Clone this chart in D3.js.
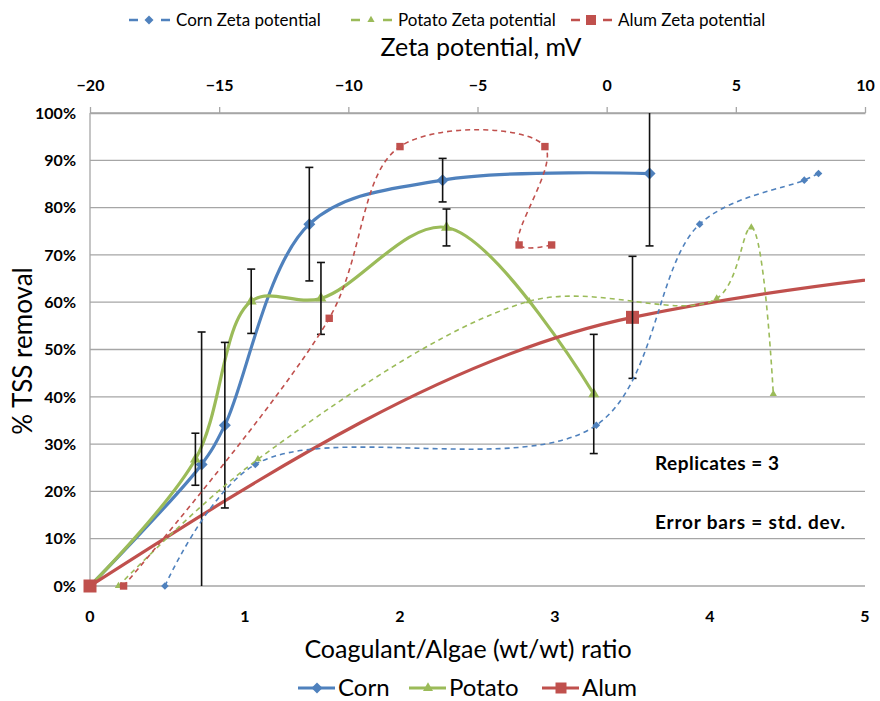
<!DOCTYPE html>
<html>
<head>
<meta charset="utf-8">
<script src="https://cdn.jsdelivr.net/npm/d3@7/dist/d3.min.js"></script>
<style>
  body { margin: 0; background: #fff; }
  text { font-family: Lato, "Open Sans", sans-serif; fill: #000; }
</style>
</head>
<body>
<svg id="chart" width="880" height="701"></svg>
<script>
// %TSS removal vs coagulant dose (mean of 3 replicates, sd = error bars)
let cornDose   = [0, 0.72, 0.87, 1.415, 2.275, 3.61];
let cornTSS    = [0, 25.7, 34.0, 76.5, 85.8, 87.2];
let cornSD     = [0, 28.0, 17.5, 12.0, 4.6, 15.3];

let potatoDose = [0, 0.68, 1.04, 1.49, 2.30, 3.25];
let potatoTSS  = [0, 26.8, 60.2, 60.8, 75.8, 40.6];
let potatoSD   = [0, 5.5, 6.8, 7.6, 3.9, 12.6];

// last alum dose falls beyond the x axis (estimated, clipped)
let alumDose   = [0, 3.5, 8];
let alumTSS    = [0, 56.8, 72];
let alumSD     = [0, 12.9, 0];

// zeta potential (mV) for the same samples
let cornZeta      = [-17.1, -13.6, -0.4, 3.6, 7.65, 8.2];
let potatoZeta    = [-18.9, -13.5, -3.0, 4.26, 5.6, 6.45];
let alumZeta      = [-18.7, -10.74, -8.0, -2.39, -3.39, -2.13];
let alumZetaTSS   = [0, 56.6, 92.9, 92.9, 72.1, 72.1];

let yTicks    = [0, 10, 20, 30, 40, 50, 60, 70, 80, 90, 100];
let doseTicks = [0, 1, 2, 3, 4, 5];
let zetaTicks = [-20, -15, -10, -5, 0, 5, 10];

let blue = "#4F81BD", green = "#9BBB59", red = "#C0504D";

let svg = d3.select("#chart");
let pLeft = 90, pRight = 865, pTop = 113, pBottom = 586;

let x = d3.scaleLinear().domain([0, 5]).range([pLeft, pRight]);
let xz = d3.scaleLinear().domain([-20, 10]).range([pLeft, pRight]);
let y = d3.scaleLinear().domain([0, 100]).range([pBottom, pTop]);

svg.append("clipPath").attr("id", "plotClip")
  .append("rect").attr("x", pLeft).attr("y", pTop)
  .attr("width", pRight - pLeft).attr("height", pBottom - pTop);

// gridlines
svg.append("g").selectAll("line")
  .data(yTicks).enter().append("line")
  .attr("x1", pLeft).attr("x2", pRight)
  .attr("y1", d => y(d)).attr("y2", d => y(d))
  .attr("stroke", "#a6a6a6").attr("stroke-width", 1.3);

svg.append("line")
  .attr("x1", pLeft).attr("x2", pLeft).attr("y1", pTop).attr("y2", pBottom)
  .attr("stroke", "#a6a6a6").attr("stroke-width", 1.3);

// left axis labels
svg.append("g").selectAll("text")
  .data(yTicks).enter().append("text")
  .attr("x", 76).attr("y", d => y(d)).attr("dy", "0.36em")
  .attr("text-anchor", "end")
  .style("font-size", "16px").style("font-weight", "bold")
  .text(d => d + "%");

// bottom axis labels
svg.append("g").selectAll("text")
  .data(doseTicks).enter().append("text")
  .attr("x", d => x(d)).attr("y", 622)
  .attr("text-anchor", "middle")
  .style("font-size", "16px").style("font-weight", "bold")
  .text(d => d);

// top axis (zeta potential)
let topAxis = svg.append("g")
  .attr("transform", "translate(0," + pTop + ")")
  .call(d3.axisTop(xz).tickValues(zetaTicks).tickSize(6).tickSizeOuter(0).tickPadding(16));
topAxis.select(".domain").attr("stroke", "#a6a6a6").attr("stroke-width", 1.3);
topAxis.selectAll(".tick line").attr("stroke", "#a6a6a6").attr("stroke-width", 1.3);
topAxis.selectAll(".tick text")
  .style("font-family", "Lato, sans-serif")
  .style("font-size", "16px").style("font-weight", "bold").attr("fill", "#000");

// axis titles
svg.append("text").attr("x", 481).attr("y", 56).attr("text-anchor", "middle")
  .style("font-size", "25px").text("Zeta potential, mV");
svg.append("text").attr("x", 468).attr("y", 658).attr("text-anchor", "middle")
  .style("font-size", "25px").text("Coagulant/Algae (wt/wt) ratio");
svg.append("text").attr("transform", "translate(32,351) rotate(-90)")
  .attr("text-anchor", "middle")
  .style("font-size", "26px").text("% TSS removal");

svg.append("text").attr("x", 655).attr("y", 470)
  .attr("textLength", 124).attr("lengthAdjust", "spacing")
  .style("font-size", "19px").style("font-weight", "bold").text("Replicates = 3");
svg.append("text").attr("x", 655).attr("y", 529)
  .attr("textLength", 190).attr("lengthAdjust", "spacing")
  .style("font-size", "19px").style("font-weight", "bold").text("Error bars = std. dev.");

// marker shapes
function marker(kind, s) {
  if (kind == "diamond") return "M0," + (-s) + "L" + s + ",0L0," + s + "L" + (-s) + ",0Z";
  if (kind == "square") return "M" + (-s) + "," + (-s) + "h" + (2 * s) + "v" + (2 * s) + "h" + (-2 * s) + "Z";
  let h = s * 1.732;
  return "M0," + (-h * 2 / 3) + "L" + s + "," + (h / 3) + "L" + (-s) + "," + (h / 3) + "Z";
}

let smooth = d3.curveCatmullRom.alpha(0.5);

let gMain = svg.append("g");
let gBars = svg.append("g").attr("clip-path", "url(#plotClip)");

function drawSeries(xs, ys, sds, color, kind, size, curve) {
  let pts = xs.map((d, i) => [x(d), y(ys[i])]);
  gMain.append("path")
    .attr("d", d3.line().curve(curve)(pts))
    .attr("clip-path", "url(#plotClip)")
    .attr("fill", "none").attr("stroke", color).attr("stroke-width", 3.2);

  let vis = xs.map((d, i) => ({ x: d, y: ys[i], sd: sds[i] })).filter(d => d.x <= 5);
  vis.filter(d => d.sd > 0).forEach(d => {
    let g = gBars.append("g").attr("stroke", "#111").attr("stroke-width", 1.6);
    g.append("line").attr("x1", x(d.x)).attr("x2", x(d.x))
      .attr("y1", y(d.y + d.sd)).attr("y2", y(d.y - d.sd));
    g.append("line").attr("x1", x(d.x) - 4).attr("x2", x(d.x) + 4)
      .attr("y1", y(d.y + d.sd)).attr("y2", y(d.y + d.sd));
    g.append("line").attr("x1", x(d.x) - 4).attr("x2", x(d.x) + 4)
      .attr("y1", y(d.y - d.sd)).attr("y2", y(d.y - d.sd));
  });
  gMain.append("g").selectAll("path")
    .data(vis).enter().append("path")
    .attr("transform", d => "translate(" + x(d.x) + "," + y(d.y) + ")")
    .attr("d", marker(kind, size))
    .attr("fill", color);
}

drawSeries(cornDose, cornTSS, cornSD, blue, "diamond", 6, smooth);
drawSeries(potatoDose, potatoTSS, potatoSD, green, "triangle", 5.5, smooth);
drawSeries(alumDose, alumTSS, alumSD, red, "square", 6.5, d3.curveMonotoneX);

// zeta potential series (dashed, top axis)
let gZeta = svg.append("g");
function drawZeta(zs, ys, color, kind, size) {
  let pts = zs.map((d, i) => [xz(d), y(ys[i])]);
  gZeta.append("path")
    .attr("d", d3.line().curve(smooth)(pts))
    .attr("fill", "none").attr("stroke", color).attr("stroke-width", 1.6)
    .attr("stroke-dasharray", "5,4");
  gZeta.append("g").selectAll("path")
    .data(pts).enter().append("path")
    .attr("transform", d => "translate(" + d[0] + "," + d[1] + ")")
    .attr("d", marker(kind, size))
    .attr("fill", color);
}
drawZeta(cornZeta, cornTSS, blue, "diamond", 3.8);
drawZeta(potatoZeta, potatoTSS, green, "triangle", 3.6);
drawZeta(alumZeta, alumZetaTSS, red, "square", 3.7);

// top legend
let topLegend = [
  { name: "Corn Zeta potential", color: blue, kind: "diamond", size: 4.5, x: 176 },
  { name: "Potato Zeta potential", color: green, kind: "triangle", size: 3.6, x: 398 },
  { name: "Alum Zeta potential", color: red, kind: "square", size: 5, x: 618 }
];
topLegend.forEach(d => {
  let g = svg.append("g");
  g.append("line").attr("x1", d.x - 47).attr("x2", d.x - 38).attr("y1", 20).attr("y2", 20)
    .attr("stroke", d.color).attr("stroke-width", 2.5);
  g.append("line").attr("x1", d.x - 15).attr("x2", d.x - 6).attr("y1", 20).attr("y2", 20)
    .attr("stroke", d.color).attr("stroke-width", 2.5);
  g.append("path").attr("transform", "translate(" + (d.x - 27) + ",20)")
    .attr("d", marker(d.kind, d.size)).attr("fill", d.color);
  g.append("text").attr("x", d.x).attr("y", 20).attr("dy", "0.35em")
    .style("font-size", "17px").text(d.name);
});

// bottom legend
let bottomLegend = [
  { name: "Corn", color: blue, kind: "diamond", size: 5.5, x: 338 },
  { name: "Potato", color: green, kind: "triangle", size: 5, x: 449 },
  { name: "Alum", color: red, kind: "square", size: 5.5, x: 582 }
];
bottomLegend.forEach(d => {
  let g = svg.append("g");
  g.append("line").attr("x1", d.x - 40).attr("x2", d.x - 3).attr("y1", 688).attr("y2", 688)
    .attr("stroke", d.color).attr("stroke-width", 3.2);
  g.append("path").attr("transform", "translate(" + (d.x - 21) + ",688)")
    .attr("d", marker(d.kind, d.size)).attr("fill", d.color);
  g.append("text").attr("x", d.x).attr("y", 688).attr("dy", "0.35em")
    .style("font-size", "24px").text(d.name);
});
</script>
</body>
</html>
